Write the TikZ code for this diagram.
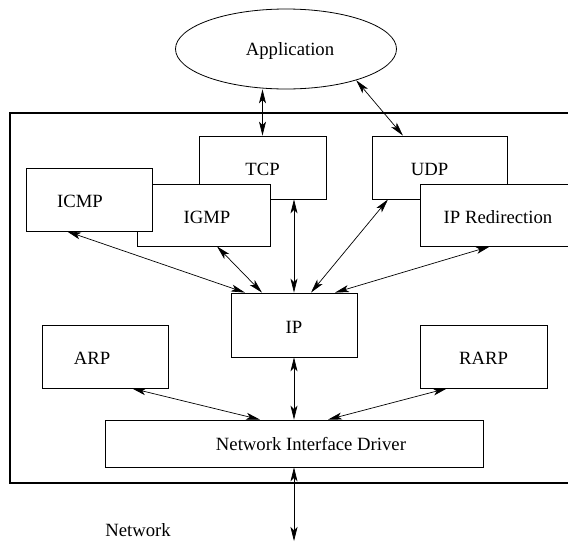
\documentclass[tikz,border=0pt]{standalone}
\usepackage{fontspec}
\setmainfont{Liberation Serif}
\usetikzlibrary{arrows.meta,shapes.geometric}
\begin{document}
\begin{tikzpicture}[x=1pt,y=-1pt,
  font=\fontsize{18.7}{22}\selectfont,
  box/.style={draw, rectangle, line width=0.8pt, fill=white, inner sep=0pt},
  tip/.tip={Stealth[length=14pt,width=7pt,inset=3.5pt]},
  link/.style={tip-tip, line width=0.7pt}]
\useasboundingbox (0,0) rectangle (568,544);
\clip (0,0) rectangle (568,544);

% host boundary (runs off the right edge)
\node[draw, rectangle, line width=1.2pt, inner sep=0pt, minimum width=570pt, minimum height=370pt] (host) at (295,298) {};

% transport layer
\node[box, minimum width=127pt, minimum height=63pt, label={[yshift=-2pt]center:TCP}] (tcp) at (262.5,167.5) {};
\node[box, minimum width=135pt, minimum height=63pt, label={[xshift=-10pt,yshift=-2pt]center:UDP}] (udp) at (439.5,167.5) {};
\node[box, minimum width=133pt, minimum height=62pt, label={[xshift=3.5pt,yshift=-2pt]center:IGMP}] (igmp) at (203.5,215) {};
\node[box, minimum width=126pt, minimum height=63pt, label={[xshift=-9pt,yshift=-2pt]center:ICMP}] (icmp) at (89,199.5) {};
\node[box, minimum width=160pt, minimum height=62pt, label={[xshift=-2pt,yshift=-2pt]center:IP Redirection}] (ipr) at (500,215) {};

% network layer
\node[box, minimum width=126pt, minimum height=64pt, label={[yshift=-2pt]center:IP}] (ip) at (294,325) {};
\node[box, minimum width=126pt, minimum height=63pt, label={[xshift=-13pt,yshift=-2pt]center:ARP}] (arp) at (105,356.5) {};
\node[box, minimum width=127pt, minimum height=63pt, label={[yshift=-2pt]center:RARP}] (rarp) at (483.5,356.5) {};

% link layer
\node[box, minimum width=378pt, minimum height=47pt, label={[xshift=17pt,yshift=-1pt]center:Network Interface Driver}] (drv) at (294,443.5) {};

% user space
\node[draw, ellipse, line width=0.8pt, inner sep=0pt, minimum width=221pt, minimum height=80pt] (app) at (286,49) {};
\node at (app.center) [xshift=4pt,yshift=-2pt] {Application};

\node (net) at (138,530) {Network};
\coordinate (wire) at (294,541);

% connectors
\draw[link] (tcp.north |- app.south) -- (tcp.north);
\draw[link] (app.-24) -- ([xshift=-36.5pt]udp.north);
\draw[link] ([xshift=-22pt]icmp.south) -- ([xshift=-49pt]ip.north);
\draw[link] ([xshift=13.5pt]igmp.south) -- ([xshift=-32pt]ip.north);
\draw[link] (ip.north |- tcp.south) -- (ip.north);
\draw[link] ([xshift=-51.5pt]udp.south) -- ([xshift=17pt]ip.north);
\draw[link] ([xshift=-10pt]ipr.south) -- ([xshift=41pt]ip.north);
\draw[link] (ip.south) -- (drv.north);
\draw[link] ([xshift=27pt]arp.south) -- ([xshift=-34pt]drv.north);
\draw[link] ([xshift=-36.5pt]rarp.south) -- ([xshift=34pt]drv.north);
\draw[link] (drv.south) -- (wire);
\end{tikzpicture}
\end{document}
